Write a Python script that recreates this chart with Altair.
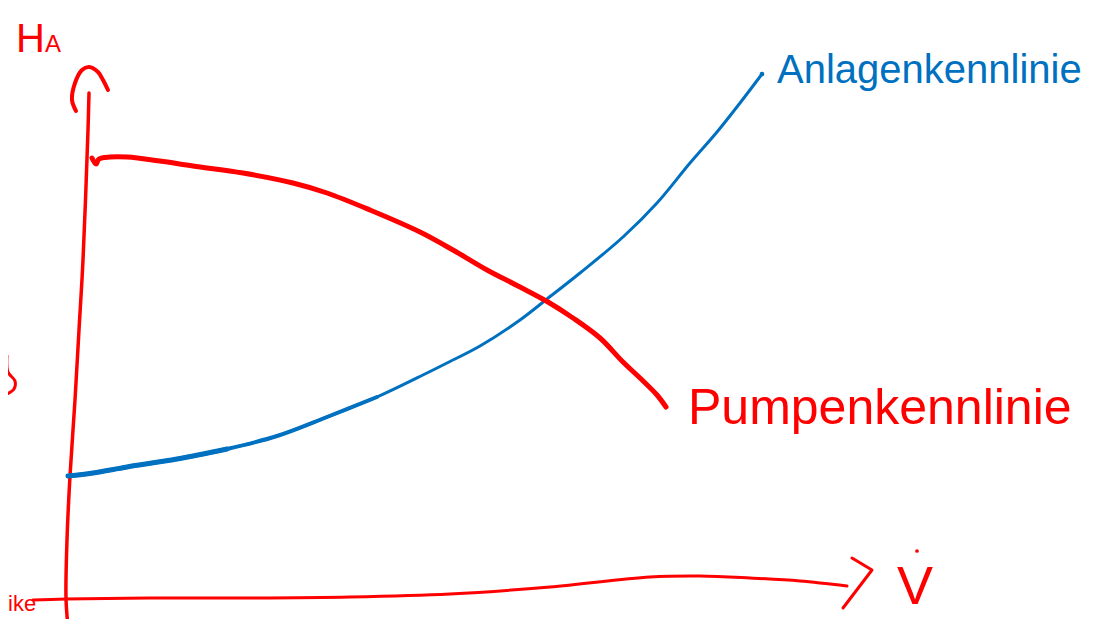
import altair as alt
import pandas as pd

RED = "#FF0000"
BLUE = "#0070C0"

# ---- data (flow q, head h), origin at the sketched axis crossing ----
pump_q = [26, 30, 33, 44, 61, 94, 127, 177, 227, 261, 304, 354, 387, 421, 454, 482, 507, 534, 557, 574, 591, 600]
pump_h = [440, 434, 439, 441, 441, 437, 432, 425, 415, 405, 388, 366, 348, 328, 311, 296, 280, 260, 236, 220, 203, 191]

system_q = [2, 27, 61, 111, 161, 211, 261, 311, 361, 381, 414, 454, 481, 514, 557, 591, 624, 651, 674, 696]
system_h = [122, 125, 131, 139, 149, 162, 181, 201, 225, 235, 252, 278, 299, 325, 361, 395, 435, 466, 495, 524]

yaxis_q = [23, 22, 17, 13, 9, 4, 1, 0, 2]
yaxis_h = [505, 468, 338, 268, 198, 122, 58, 0, -29]
yarrow_q = [10, 6, 9, 16, 23, 32, 37, 42]
yarrow_h = [487, 498, 515, 528, 531, 526, 518, 508]

xaxis_q = [-33, 0, 84, 184, 284, 384, 484, 584, 634, 684, 734, 781]
xaxis_h = [-2, -1, 0, 0, 1, 4, 11, 21, 22, 20, 17, 12]
xarrow_q = [786, 806, 777]
xarrow_h = [40, 28, -10]

squiggle_q = [-59, -58, -51, -52, -59]
squiggle_h = [242, 226, 217, 209, 204]

W, H = 1086, 611
xs = alt.Scale(domain=[-58, W - 58], nice=False, zero=False)
ys = alt.Scale(domain=[590 - H, 590], nice=False, zero=False)


def frame(q, h):
    return pd.DataFrame({"q": q, "h": h, "i": list(range(len(q)))})


def enc(ch):
    return ch.encode(
        x=alt.X("q:Q", scale=xs, axis=None),
        y=alt.Y("h:Q", scale=ys, axis=None),
        order="i:Q",
    )


def stroke(q, h, color, width, interp="catmull-rom"):
    ch = alt.Chart(frame(q, h)).mark_line(
        color=color, strokeWidth=width, interpolate=interp,
        strokeCap="round", strokeJoin="round")
    return enc(ch)


def label(text, q, h, color, size, font="Liberation Sans"):
    df = pd.DataFrame({"q": [q], "h": [h], "t": [text]})
    return alt.Chart(df).mark_text(
        color=color, fontSize=size, font=font, align="left",
        baseline="alphabetic").encode(
        x=alt.X("q:Q", scale=xs, axis=None),
        y=alt.Y("h:Q", scale=ys, axis=None),
        text="t:N")


sys_base = alt.Chart(frame(system_q, system_h))
system_layers = [
    enc(sys_base.mark_line(color=BLUE, strokeWidth=3, interpolate="catmull-rom", strokeCap="round")),
    enc(sys_base.transform_filter("datum.q <= 311").mark_line(color=BLUE, strokeWidth=4, interpolate="catmull-rom", strokeCap="round")),
    enc(sys_base.transform_filter("datum.q <= 161").mark_line(color=BLUE, strokeWidth=5, interpolate="catmull-rom", strokeCap="round")),
]


def point(q, h, color, size):
    return alt.Chart(pd.DataFrame({"q": [q], "h": [h]})).mark_point(
        filled=True, color=color, size=size, opacity=1).encode(
        x=alt.X("q:Q", scale=xs, axis=None), y=alt.Y("h:Q", scale=ys, axis=None))


chart = alt.layer(
    stroke(yaxis_q, yaxis_h, RED, 3.5),
    stroke(yarrow_q, yarrow_h, RED, 4),
    stroke(xaxis_q, xaxis_h, RED, 3),
    stroke(xarrow_q, xarrow_h, RED, 3, interp="linear"),
    stroke(squiggle_q, squiggle_h, RED, 3),
    *system_layers,
    point(696, 524, BLUE, 22),
    stroke(pump_q, pump_h, RED, 5),
    label("H", -50, 546, RED, 40),
    label("A", -21, 546, RED, 24),
    label("Anlagenkennlinie", 711, 515, BLUE, 40),
    label("Pumpenkennlinie", 622, 174, RED, 50),
    label("V", 831, -6, RED, 54),
    point(851, 47, RED, 14),
    label("ike", -58, -13, RED, 22),
).properties(
    width=W, height=H, padding=0,
    autosize=alt.AutoSizeParams(type="none"),
    background="white",
).configure_view(stroke=None)

chart.save("out.html", embed_options={"renderer": "svg", "actions": False})
